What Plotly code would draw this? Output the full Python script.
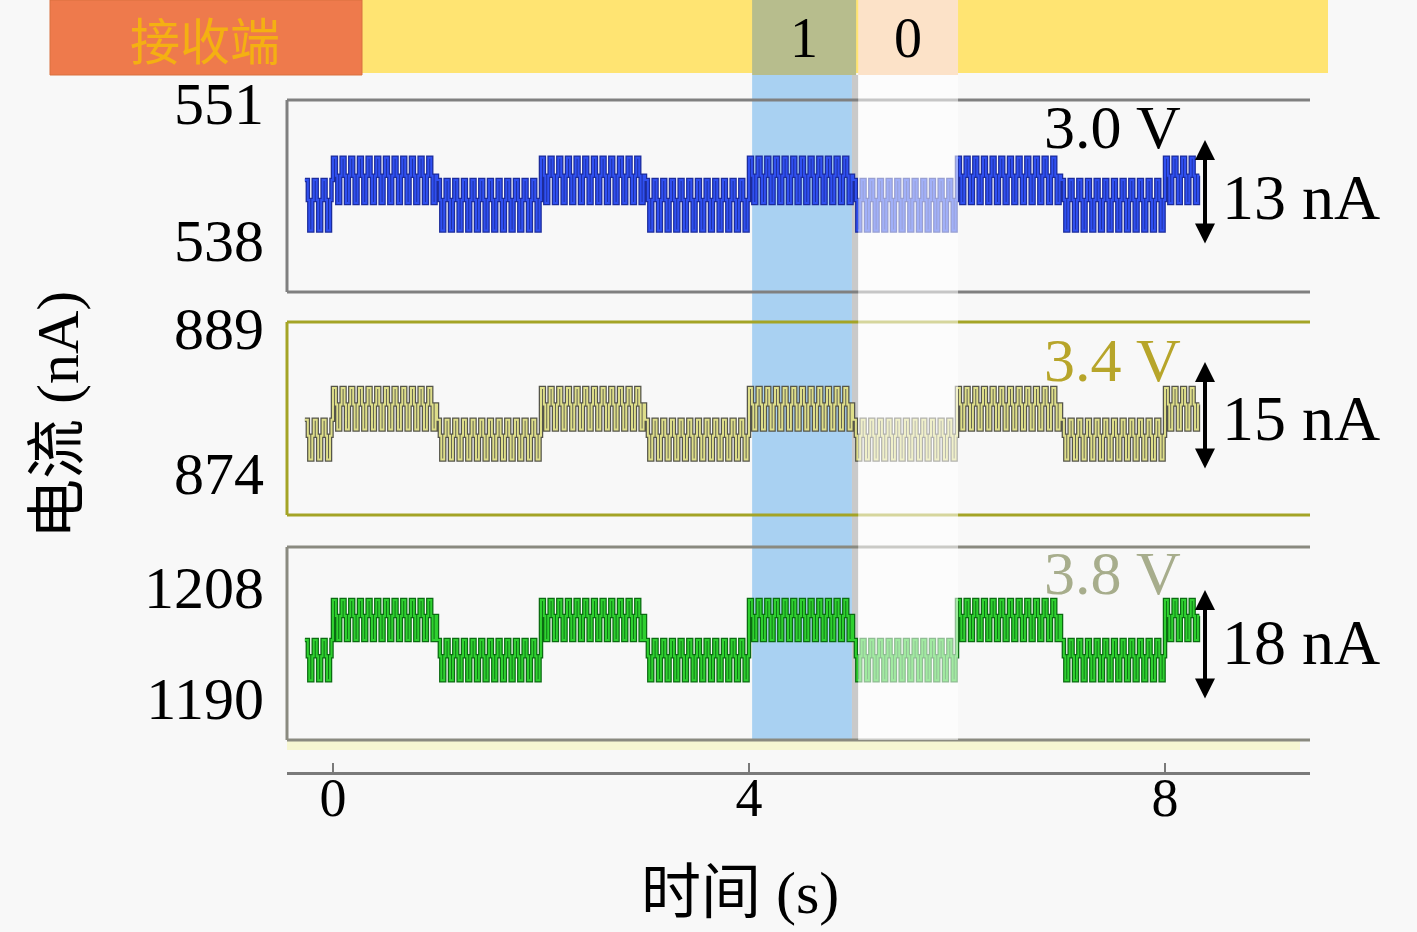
import numpy as np
import plotly.graph_objects as go

# symbol timeline (s): a partial symbol before 0 and after 8
t_edges = [-0.27, 0, 1, 2, 3, 4, 5, 6, 7, 8, 8.33]
bits = [0, 1, 0, 1, 0, 1, 0, 1, 0, 1]
cycles_per_s = 12
# one ripple cycle, as fraction of the band (0 = bottom, 1 = top)
ripple = [1.0, 1.0, 0.6, 0.0, 0.0, 0.6]

voltages = ["3.0 V", "3.4 V", "3.8 V"]
swings = ["13 nA", "15 nA", "18 nA"]

# current bands (nA): low bottom, low top, high bottom, high top
band_30 = [538.9, 543.7, 541.5, 545.8]
band_34 = [875.4, 879.5, 878.5, 882.8]
band_38 = [1192.9, 1199.4, 1199.4, 1205.9]

yticks_30 = [538, 551]
yticks_34 = [874, 889]
yticks_38 = [1190, 1208]
xticks = [0, 4, 8]

W, H = 1417, 932
px = lambda v: v / W
py = lambda v: 1 - v / H

SERIF = "Liberation Serif, Noto Sans CJK SC"


def build(band):
    t, y = [], []
    for i, b in enumerate(bits):
        lo, hi = (band[2], band[3]) if b else (band[0], band[1])
        n = int(round((t_edges[i + 1] - t_edges[i]) * cycles_per_s * len(ripple)))
        ts = np.linspace(t_edges[i], t_edges[i + 1], n, endpoint=False)
        for k, tt in enumerate(ts):
            t.append(tt)
            y.append(lo + ripple[k % len(ripple)] * (hi - lo))
    t.append(t_edges[-1])
    y.append(y[-1])
    return t, y


panels = [
    dict(band=band_30, yaxis="y", edge="#1c2c9c", fill="#3050f0"),
    dict(band=band_34, yaxis="y2", edge="#55554a", fill="#dede8a"),
    dict(band=band_38, yaxis="y3", edge="#0b6b12", fill="#2fd030"),
]

fig = go.Figure()
for p in panels:
    t, y = build(p["band"])
    fig.add_trace(go.Scatter(x=t, y=y, yaxis=p["yaxis"], mode="lines",
                             line=dict(color=p["edge"], width=4.5, shape="hv"),
                             showlegend=False, hoverinfo="skip"))
    fig.add_trace(go.Scatter(x=t, y=y, yaxis=p["yaxis"], mode="lines",
                             line=dict(color=p["fill"], width=2, shape="hv"),
                             showlegend=False, hoverinfo="skip"))

xdom = [px(287), px(1310)]
doms = [[py(292), py(100)], [py(515), py(322)], [py(740), py(547)]]
ranges = [[533.06, 551.28], [869.66, 889.62], [1183.2, 1214.5]]
ticks = [yticks_30, yticks_34, yticks_38]
border = ["#808080", "#a4a426", "#8a8a80"]

fig.update_layout(
    width=W, height=H, autosize=False,
    margin=dict(l=0, r=0, t=0, b=0),
    paper_bgcolor="#f8f8f8", plot_bgcolor="#f8f8f8",
    font=dict(family=SERIF, color="black"),
    xaxis=dict(domain=xdom, range=[-0.442, 9.394], anchor="free", position=py(773),
               showline=True, linecolor="#7a7a7a", linewidth=3, automargin=False,
               ticks="inside", ticklen=9, tickwidth=2, tickcolor="#7a7a7a",
               tickvals=xticks, tickfont=dict(size=54, family=SERIF),
               showgrid=False, zeroline=False, ticklabelstandoff=-24),
)
for i, name in enumerate(["yaxis", "yaxis2", "yaxis3"]):
    fig.update_layout({name: dict(domain=doms[i], range=ranges[i], anchor="x",
                                  tickvals=ticks[i], ticks="", showgrid=False,
                                  zeroline=False, showline=False, automargin=False,
                                  tickfont=dict(size=60, family=SERIF),
                                  ticklabelstandoff=22)})

shapes = []
# highlighted "1" symbol and its grey edge
shapes.append(dict(type="rect", xref="x", yref="paper", x0=4.03, x1=4.99,
                   y0=py(740), y1=py(75), fillcolor="#a9d1f2", line_width=0, layer="below"))
shapes.append(dict(type="rect", xref="x", yref="paper", x0=4.99, x1=5.05,
                   y0=py(740), y1=py(75), fillcolor="#c9c9c9", line_width=0, layer="below"))
# light yellow strip below the last panel
shapes.append(dict(type="rect", xref="paper", yref="paper", x0=px(287), x1=px(1300),
                   y0=py(750), y1=py(740), fillcolor="#f6f6d2", line_width=0, layer="below"))
# panel borders (left, top, bottom)
for i, d in enumerate(doms):
    c = border[i]
    for (x0, y0, x1, y1) in [(xdom[0], d[0], xdom[0], d[1]), (xdom[0], d[1], xdom[1], d[1]),
                             (xdom[0], d[0], xdom[1], d[0])]:
        shapes.append(dict(type="line", xref="paper", yref="paper", x0=x0, y0=y0,
                           x1=x1, y1=y1, line=dict(color=c, width=3), layer="above"))
# faded "0" symbol
shapes.append(dict(type="rect", xref="x", yref="paper", x0=5.05, x1=6.01,
                   y0=py(740), y1=py(75), fillcolor="rgba(255,255,255,0.55)",
                   line_width=0, layer="above"))
# banner
shapes.append(dict(type="rect", xref="paper", yref="paper", x0=px(362), x1=px(1328),
                   y0=py(73), y1=1, fillcolor="#ffe472", line_width=0, layer="above"))
shapes.append(dict(type="rect", xref="paper", yref="paper", x0=px(50), x1=px(362),
                   y0=py(75), y1=1, fillcolor="#ee7a4c", line=dict(color="#d9703f", width=1),
                   layer="above"))
shapes.append(dict(type="rect", xref="x", yref="paper", x0=4.03, x1=5.03,
                   y0=py(75), y1=1, fillcolor="#b7bd8d", line_width=0, layer="above"))
shapes.append(dict(type="rect", xref="x", yref="paper", x0=5.05, x1=6.01,
                   y0=py(75), y1=1, fillcolor="#fce2c8", line_width=0, layer="above"))
fig.update_layout(shapes=shapes)


def label(x, y, text, size, color="black", family=SERIF, xref="paper", **kw):
    d = dict(x=x, y=y, xref=xref, yref="paper", text=text, showarrow=False,
             xanchor="center", yanchor="middle",
             font=dict(size=size, color=color, family=family))
    d.update(kw)
    return d


ann = []
ann.append(label(px(205), py(38), "接收端", 50, "#f4b012", "Noto Sans CJK SC"))
ann.append(label(4.53, py(38), "1", 56, xref="x"))
ann.append(label(5.53, py(38), "0", 56, xref="x"))

vcol = ["black", "#b7a52a", "#a7ad8c"]
vy = [127, 360, 573]
arrow_top = [140, 362, 590]
arrow_len = [105, 108, 110]
sy = [197, 418, 642]
for i in range(3):
    ann.append(label(px(1112), py(vy[i]), voltages[i], 62, vcol[i]))
    ann.append(dict(x=px(1205), y=py(arrow_top[i]), xref="paper", yref="paper", text="",
                    showarrow=True, ax=0, ay=arrow_len[i], arrowside="end+start",
                    arrowhead=2, arrowsize=1, arrowwidth=4, arrowcolor="black"))
    ann.append(label(px(1220), py(sy[i]), swings[i], 64, xanchor="left"))

ann.append(label(px(740), py(893), "时间 (s)", 60))
ann.append(label(px(58), py(415), "电流 (nA)", 60, textangle=-90))
fig.update_layout(annotations=ann)

fig.write_html("out.html", post_script="document.body.style.margin='0';",
               config={"displayModeBar": False})
